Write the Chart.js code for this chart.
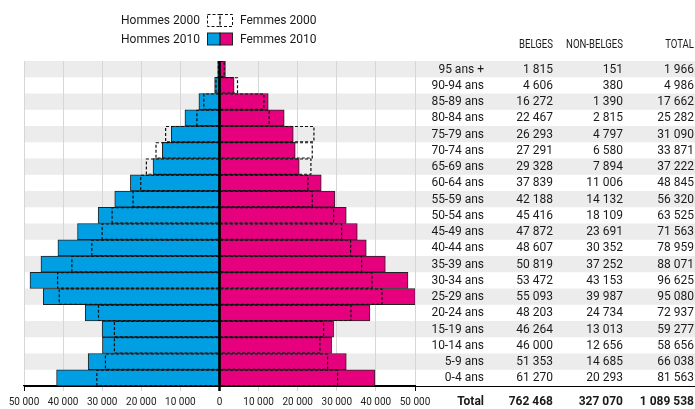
<!DOCTYPE html>
<html>
<head>
<meta charset="utf-8">
<script src="https://cdn.jsdelivr.net/npm/chart.js@4.4.1/dist/chart.umd.min.js"></script>
<style>
  html, body { margin: 0; padding: 0; background: #fff; }
  #wrap { width: 695px; height: 409px; }
</style>
</head>
<body>
<div id="wrap"><canvas id="chart" width="695" height="409"></canvas></div>
<script>
// tranches d'âge, du haut vers le bas
const ages = ["95 ans +", "90-94 ans", "85-89 ans", "80-84 ans", "75-79 ans", "70-74 ans",
  "65-69 ans", "60-64 ans", "55-59 ans", "50-54 ans", "45-49 ans", "40-44 ans", "35-39 ans",
  "30-34 ans", "25-29 ans", "20-24 ans", "15-19 ans", "10-14 ans", "5-9 ans", "0-4 ans"];

// pyramide
const hommes2010 = [450, 1250, 5270, 8840, 12330, 14630, 17000, 22790, 26790, 31040,
  36310, 41330, 45660, 48470, 45070, 34350, 30020, 29930, 33590, 41670];
const femmes2010 = [1516, 3736, 12460, 16550, 18860, 19370, 20390, 26020, 29520, 32420,
  35240, 37540, 42410, 48210, 50090, 38480, 29180, 28670, 32420, 39760];
const hommes2000 = [300, 900, 4000, 5780, 13780, 16240, 18700, 20150, 22110, 27470,
  30020, 32650, 37760, 41410, 40990, 30950, 26870, 26870, 29170, 31380];
const femmes2000 = [1200, 4600, 11350, 12700, 24150, 23720, 23380, 22610, 23720, 29180,
  31230, 33530, 36350, 38990, 41550, 33620, 26620, 25680, 27650, 30200];

// tableau
const belges = [1815, 4606, 16272, 22467, 26293, 27291, 29328, 37839, 42188, 45416,
  47872, 48607, 50819, 53472, 55093, 48203, 46264, 46000, 51353, 61270];
const nonBelges = [151, 380, 1390, 2815, 4797, 6580, 7894, 11006, 14132, 18109,
  23691, 30352, 37252, 43153, 39987, 24734, 13013, 12656, 14685, 20293];
const totaux = [1966, 4986, 17662, 25282, 31090, 33871, 37222, 48845, 56320, 63525,
  71563, 78959, 88071, 96625, 95080, 72937, 59277, 58656, 66038, 81563];
const ligneTotal = ["Total", 762468, 327070, 1089538];
const enTetes = ["BELGES", "NON-BELGES", "TOTAL"];

const BLEU = "#009fe3";
const ROSE = "#e6007e";
const TXT = "#1a1a1a";

function fmt(n) {
  return String(n).replace(/\B(?=(\d{3})+(?!\d))/g, " ");
}

// bandes grises, contours 2000, ligne du zéro, tableau et légende
const decor = {
  id: "decor",
  beforeDraw(chart) {
    const { ctx, chartArea, scales: { y } } = chart;
    const rowH = (chartArea.bottom - chartArea.top) / ages.length;
    ctx.save();
    ctx.fillStyle = "#ececec";
    ages.forEach((a, i) => {
      if (i % 2 === 0) {
        const yc = y.getPixelForValue(i);
        ctx.fillRect(chartArea.left, yc - rowH / 2, chart.width - chartArea.left, rowH);
      }
    });
    ctx.restore();
  },
  afterDatasetsDraw(chart) {
    const { ctx, chartArea, scales: { x } } = chart;
    ctx.save();
    ctx.setLineDash([3, 2]);
    ctx.lineWidth = 1.2;
    ctx.strokeStyle = "#111";
    [2, 3].forEach(di => {
      chart.getDatasetMeta(di).data.forEach(bar => {
        const p = bar.getProps(["x", "y", "base", "height"], true);
        const top = p.y - p.height / 2 + 0.5, bot = p.y + p.height / 2 - 0.5;
        ctx.beginPath();
        ctx.moveTo(p.base, top);
        ctx.lineTo(p.x, top);
        ctx.lineTo(p.x, bot);
        ctx.lineTo(p.base, bot);
        ctx.stroke();
      });
    });
    ctx.setLineDash([]);
    // ligne du zéro
    const x0 = x.getPixelForValue(0);
    ctx.strokeStyle = "#000";
    ctx.lineWidth = 2.5;
    ctx.beginPath();
    ctx.moveTo(x0, chartArea.top);
    ctx.lineTo(x0, chartArea.bottom + 5);
    ctx.stroke();
    // ligne de base jusqu'au bord droit
    ctx.lineWidth = 1.2;
    ctx.beginPath();
    ctx.moveTo(chartArea.left, chartArea.bottom + 0.5);
    ctx.lineTo(chart.width, chartArea.bottom + 0.5);
    ctx.stroke();
    ctx.restore();
  },
  afterDraw(chart) {
    const { ctx, scales: { y } } = chart;
    const cols = [484, 553, 623, 694];
    ctx.save();
    ctx.fillStyle = TXT;
    ctx.textBaseline = "middle";
    ctx.textAlign = "right";

    // en-têtes étroits
    ctx.font = "12px Roboto";
    enTetes.forEach((h, i) => {
      ctx.save();
      ctx.translate(cols[i + 1], 45);
      ctx.scale(0.8, 1);
      ctx.fillText(h, 0, 0);
      ctx.restore();
    });

    ctx.font = "12px Roboto";
    ages.forEach((a, i) => {
      const yc = y.getPixelForValue(i) + 0.5;
      ctx.fillText(a, cols[0], yc);
      ctx.fillText(fmt(belges[i]), cols[1], yc);
      ctx.fillText(fmt(nonBelges[i]), cols[2], yc);
      ctx.fillText(fmt(totaux[i]), cols[3], yc);
    });

    ctx.font = "bold 12px Roboto";
    ligneTotal.forEach((v, i) => ctx.fillText(typeof v === "number" ? fmt(v) : v, cols[i], 402));

    // légende
    ctx.font = "12px Roboto";
    ctx.fillText("Hommes 2000", 200, 21);
    ctx.fillText("Hommes 2010", 200, 40);
    ctx.textAlign = "left";
    ctx.fillText("Femmes 2000", 240, 21);
    ctx.fillText("Femmes 2010", 240, 40);

    ctx.fillStyle = BLEU;
    ctx.fillRect(207.5, 33, 12.5, 12);
    ctx.fillStyle = ROSE;
    ctx.fillRect(220, 33, 12.5, 12);
    ctx.strokeStyle = "#222";
    ctx.lineWidth = 1;
    ctx.strokeRect(207.5, 33, 12.5, 12);
    ctx.strokeRect(220, 33, 12.5, 12);

    ctx.setLineDash([3, 2]);
    ctx.strokeStyle = "#111";
    ctx.strokeRect(207.5, 14.5, 12.5, 12);
    ctx.strokeRect(220, 14.5, 12.5, 12);
    ctx.restore();
  }
};

const context = document.getElementById("chart").getContext("2d");

const pyramide = new Chart(context, {
  type: "bar",
  data: {
    labels: ages,
    datasets: [
      { label: "Hommes 2010", data: hommes2010.map(v => -v), backgroundColor: BLEU },
      { label: "Femmes 2010", data: femmes2010, backgroundColor: ROSE },
      { label: "Hommes 2000", data: hommes2000.map(v => -v), backgroundColor: "rgba(0,0,0,0)", borderWidth: 0 },
      { label: "Femmes 2000", data: femmes2000, backgroundColor: "rgba(0,0,0,0)", borderWidth: 0 }
    ]
  },
  options: {
    indexAxis: "y",
    responsive: false,
    animation: false,
    layout: { padding: { left: 24, right: 280, top: 61, bottom: 0 } },
    datasets: {
      bar: {
        grouped: false,
        categoryPercentage: 1,
        barPercentage: 1,
        borderWidth: 1,
        borderColor: "#222",
        borderSkipped: false
      }
    },
    plugins: {
      legend: { display: false },
      tooltip: { enabled: false }
    },
    scales: {
      x: {
        min: -50000,
        max: 50000,
        afterFit(scale) { scale.height = 23; },
        grid: {
          color: "#d6d6d6",
          tickLength: 5,
          tickColor: c => (Math.abs(c.tick.value) === 50000 || c.tick.value === 0) ? "#000" : "#d6d6d6"
        },
        border: { display: true, color: "#000", width: 1.2 },
        ticks: {
          stepSize: 10000,
          autoSkip: false,
          maxRotation: 0,
          padding: 5,
          color: "#222",
          font: { family: "Roboto", size: 10 },
          callback: v => fmt(Math.abs(v))
        }
      },
      y: {
        display: false
      }
    }
  },
  plugins: [decor]
});
</script>
</body>
</html>
